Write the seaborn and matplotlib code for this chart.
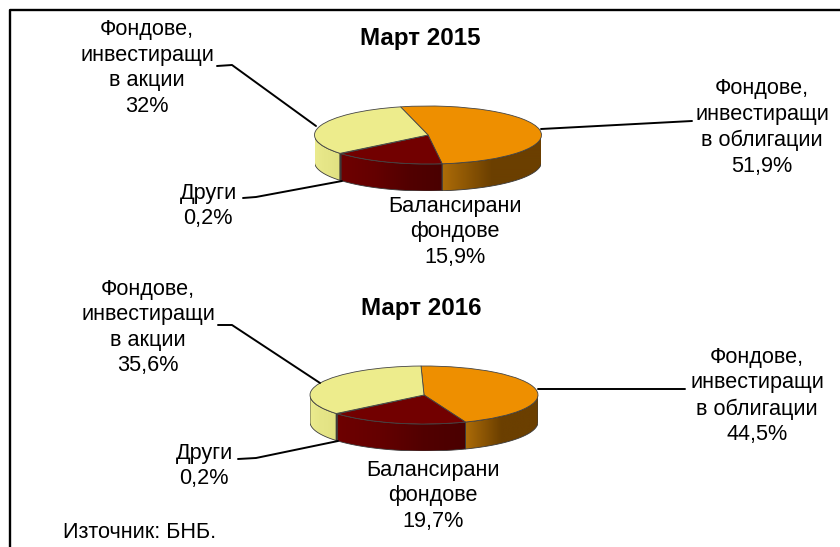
import numpy as np
import matplotlib
matplotlib.use('Agg')
import matplotlib.pyplot as plt
from matplotlib.patches import Polygon
import seaborn as sns

names = ['Фондове,\nинвестиращи\nв облигации', 'Балансирани\nфондове', 'Други', 'Фондове,\nинвестиращи\nв акции']
shares_2015 = [51.9, 15.9, 0.2, 32]
shares_2016 = [44.5, 19.7, 0.2, 35.6]
titles = ['Март 2015', 'Март 2016']
source = 'Източник: БНБ.'

top_colors = ['#EE8F00', '#720000', '#8A1A10', '#EDEC8C']
wall_colors = [['#AD6C08', '#6B3F00', '#6B3F00'],
               ['#6E0000', '#640000', '#520000', '#4A0000'],
               ['#700000', '#700000', '#700000', '#700000'],
               ['#EBEB8E', '#E6E688', '#E4E486', '#E0E080']]

W, H = 840, 547
DEPTH = 27


def side_wall(ax, start, stop, colors, depth):
    # part of the rim between two angles (degrees), only the front half shows
    a = max(start, -180)
    b = min(stop, 0)
    if b <= a:
        return
    t = np.radians(np.linspace(a, b, 60))
    x = np.cos(t)
    y = np.sin(t)
    pts = np.r_[np.c_[x, y], np.c_[x, y - depth][::-1]]
    poly = Polygon(pts, closed=True, facecolor='none', edgecolor='#3a3a3a', lw=0.6, zorder=0.6)
    cmap = sns.blend_palette(colors, as_cmap=True)
    im = ax.imshow(np.linspace(0, 1, 200)[None, :], cmap=cmap, aspect='auto', zorder=0.5,
                   extent=(x.min(), x.max(), -1 - depth, 1))
    ax.add_patch(poly)
    im.set_clip_path(poly)


def disc(fig, values, cx, cy, rx, ry, startangle):
    depth = DEPTH / ry
    ax = fig.add_axes([(cx - rx) / W, 1 - (cy + ry + DEPTH) / H, 2 * rx / W, (2 * ry + DEPTH) / H])
    ax.patch.set_alpha(0)
    edges = startangle - np.r_[0, np.cumsum(values)] * 3.6
    for i in range(len(values)):
        for shift in (0, -360):
            side_wall(ax, edges[i + 1] + shift, edges[i] + shift, wall_colors[i], depth)
    ax.pie(values, colors=sns.color_palette(top_colors), startangle=startangle, counterclock=False,
           radius=1, wedgeprops=dict(edgecolor='#444444', linewidth=0.6))
    ax.set_aspect('auto')
    ax.set_xlim(-1, 1)
    ax.set_ylim(-1 - depth, 1)
    ax.axis('off')


def pct(v):
    return '{:g}%'.format(v).replace('.', ',')


def main():
    sns.set_theme(style='white')
    plt.rcParams['font.family'] = ['Liberation Sans', 'DejaVu Sans']
    fig = plt.figure(figsize=(W / 100, H / 100), dpi=100, facecolor='white')

    disc(fig, shares_2015, 428, 135, 113.5, 29, 104)
    disc(fig, shares_2016, 424, 395, 114, 29, 91.5)

    over = fig.add_axes([0, 0, 1, 1], zorder=5)
    over.set_xlim(0, W)
    over.set_ylim(H, 0)
    over.axis('off')
    over.patch.set_alpha(0)

    # frame: only left and top sides are in the crop
    over.plot([10, 10, 840], [547, 10, 10], color='black', lw=1.7, clip_on=False)

    fs = 15.6
    over.text(420, 38, titles[0], ha='center', va='center', fontsize=17.4, fontweight='bold', color='black')
    over.text(421, 308, titles[1], ha='center', va='center', fontsize=17.4, fontweight='bold', color='black')

    label_xy = [[(762, 127.5), (455, 232), (208, 206), (147, 68)],
                [(757, 396), (433, 496), (204, 466), (148, 327.5)]]
    for shares, places in zip([shares_2015, shares_2016], label_xy):
        for name, v, (x, y) in zip(names, shares, places):
            over.text(x, y, name + '\n' + pct(v), ha='center', va='center', fontsize=fs,
                      linespacing=1.29, color='black')

    leaders = [[(217, 232, 316), (66, 65, 126)], [(541, 692), (129, 121)], [(243, 256, 342), (198, 197, 181)],
               [(218, 232, 320), (325, 325, 383)], [(538, 685), (389, 389)], [(238, 256, 338), (459, 458, 441)]]
    for xs, ys in leaders:
        over.plot(xs, ys, color='black', lw=1.4)

    over.text(63, 533, source, ha='left', va='center', fontsize=fs, color='black')

    fig.savefig('out.png', dpi=100)


if __name__ == '__main__':
    main()
